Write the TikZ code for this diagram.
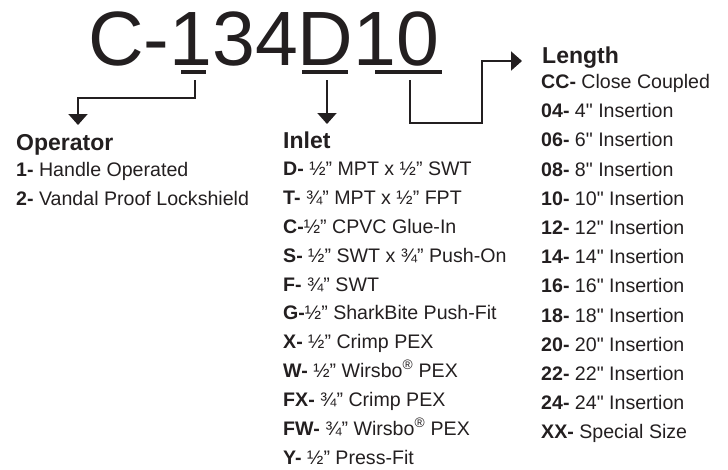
\documentclass[tikz,border=0pt]{standalone}
\usepackage{fontspec}
\setmainfont{Liberation Sans}[Ligatures=TeXOff]
\usepackage{tikz}
\usetikzlibrary{arrows.meta}
\definecolor{ink}{HTML}{231F20}

\begin{document}
\begin{tikzpicture}[x=1pt, y=-1pt, color=ink, text=ink,
    big/.style={anchor=base west, inner sep=0, font=\fontsize{77}{77}\selectfont},
    head/.style={anchor=base west, inner sep=0, font=\bfseries\fontsize{23}{24}\selectfont},
    item/.style={anchor=base west, inner sep=0, font=\fontsize{19.6}{21}\selectfont},
    bar/.style={line width=4pt},
    link/.style={line width=2pt},
    tip/.style={-{Triangle[width=19pt, length=11pt]}}]
    \useasboundingbox (0,0) rectangle (728,469);
    \node[big] (code) at (88,65) {C-134D10};
    \draw[bar] (181,72) -- (206,72);
    \draw[bar] (302,72) -- (348,72);
    \draw[bar] (375,72) -- (442,72);
    \coordinate (opTop) at (195,80);
    \coordinate (opTip) at (78,125);
    \coordinate (inTop) at (327,80);
    \coordinate (inTip) at (327,124);
    \coordinate (lenTop) at (410,80);
    \coordinate (lenTip) at (522,61);
    \draw[link, tip] (opTop) -- (195,98) -| (opTip);
    \draw[link, tip] (inTop) -- (inTip);
    \draw[link, tip] (lenTop) |- (482,123) |- (lenTip);
    % operator
    \node[head] (opHead) at (16,150) {Operator};
    \node[item] (op1) at (16,176) {\textbf{1-} Handle Operated};
    \node[item] (op2) at (16,205) {\textbf{2-} Vandal Proof Lockshield};
    % inlet
    \node[head] (inHead) at (283,148) {Inlet};
    \node[item] (in1) at (283,175) {\textbf{D-} ½” MPT x ½” SWT};
    \node[item] (in2) at (283,204) {\textbf{T-} ¾” MPT x ½” FPT};
    \node[item] (in3) at (283,233) {\textbf{C-}½” CPVC Glue-In};
    \node[item] (in4) at (283,262) {\textbf{S-} ½” SWT x ¾” Push-On};
    \node[item] (in5) at (283,291) {\textbf{F-} ¾” SWT};
    \node[item] (in6) at (283,319) {\textbf{G-}½” SharkBite Push-Fit};
    \node[item] (in7) at (283,348) {\textbf{X-} ½” Crimp PEX};
    \node[item] (in8) at (283,377) {\textbf{W-} ½” Wirsbo\textsuperscript{®} PEX};
    \node[item] (in9) at (283,406) {\textbf{FX-} ¾” Crimp PEX};
    \node[item] (in10) at (283,435) {\textbf{FW-} ¾” Wirsbo\textsuperscript{®} PEX};
    \node[item] (in11) at (283,464) {\textbf{Y-} ½” Press-Fit};
    % length
    \node[head] (lenHead) at (542,63) {Length};
    \node[item] (len1) at (541,88) {\textbf{CC-} Close Coupled};
    \node[item] (len2) at (541,117) {\textbf{04-} 4" Insertion};
    \node[item] (len3) at (541,146) {\textbf{06-} 6" Insertion};
    \node[item] (len4) at (541,176) {\textbf{08-} 8" Insertion};
    \node[item] (len5) at (541,205) {\textbf{10-} 10" Insertion};
    \node[item] (len6) at (541,234) {\textbf{12-} 12" Insertion};
    \node[item] (len7) at (541,263) {\textbf{14-} 14" Insertion};
    \node[item] (len8) at (541,292) {\textbf{16-} 16" Insertion};
    \node[item] (len9) at (541,322) {\textbf{18-} 18" Insertion};
    \node[item] (len10) at (541,351) {\textbf{20-} 20" Insertion};
    \node[item] (len11) at (541,380) {\textbf{22-} 22" Insertion};
    \node[item] (len12) at (541,409) {\textbf{24-} 24" Insertion};
    \node[item] (len13) at (541,438) {\textbf{XX-} Special Size};
\end{tikzpicture}
\end{document}
